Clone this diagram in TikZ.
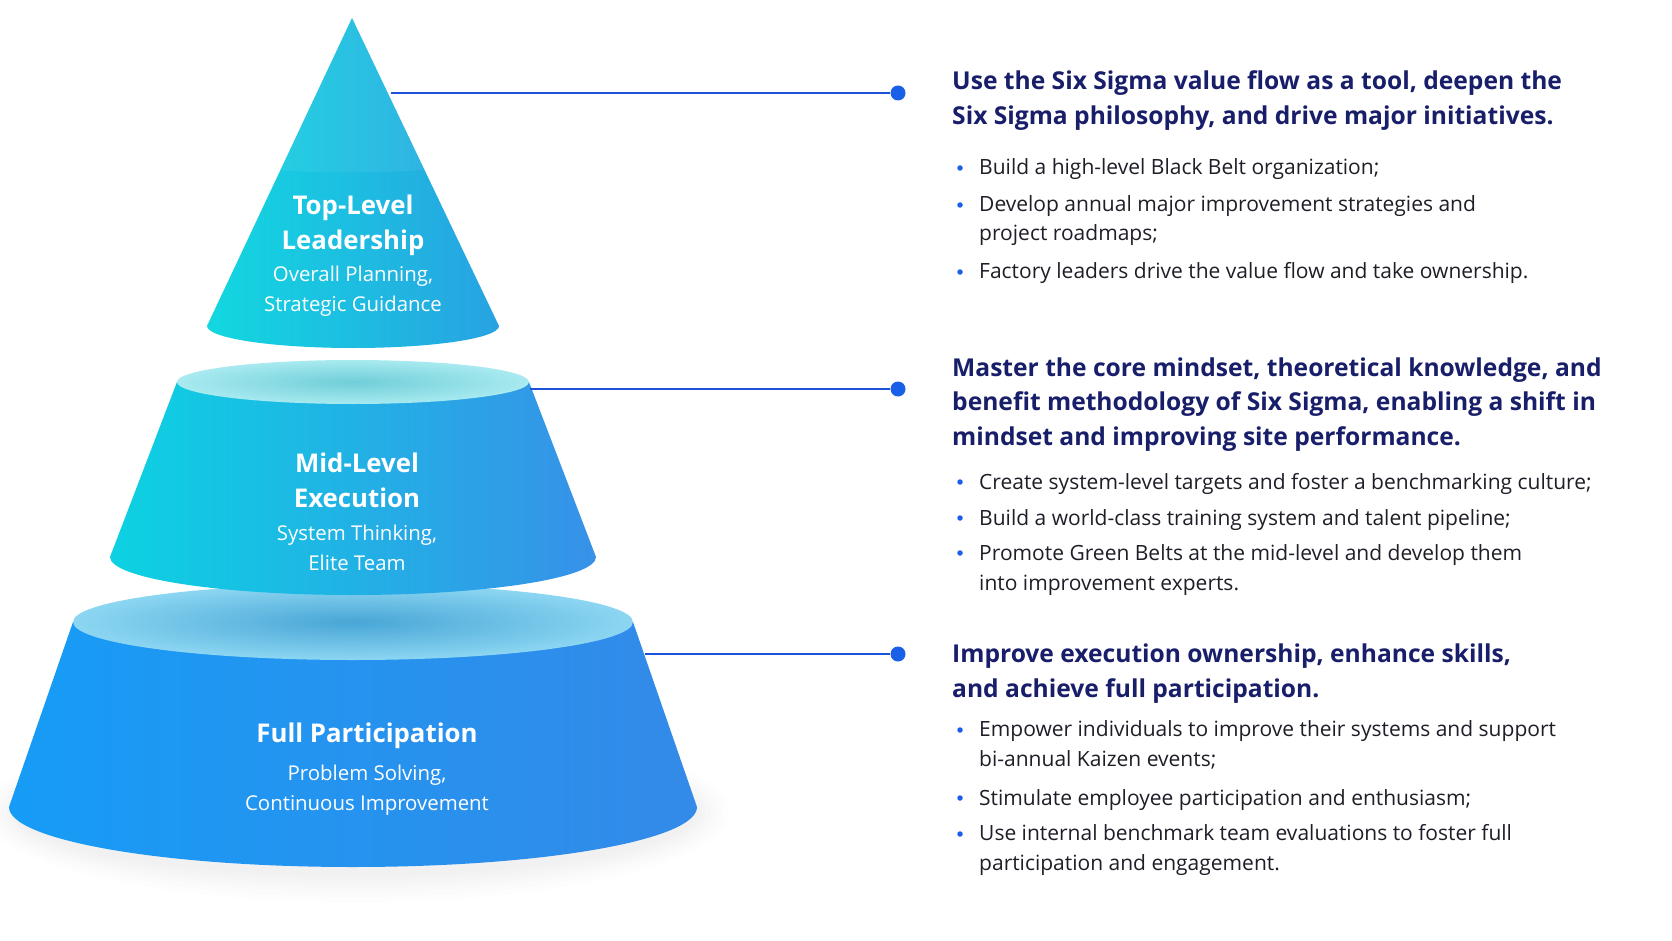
\documentclass[tikz,border=0pt]{standalone}
\usepackage{fontspec}
\setmainfont{Open Sans}
\definecolor{navy}{RGB}{24,30,105}
\definecolor{bodytxt}{RGB}{30,30,40}
\definecolor{linkblue}{RGB}{28,82,218}
\definecolor{dotblue}{RGB}{25,95,232}
\definecolor{cyanA}{RGB}{18,216,224}
\definecolor{blueA}{RGB}{40,162,226}
\definecolor{cyanB}{RGB}{12,210,226}
\definecolor{blueB}{RGB}{55,145,232}
\definecolor{topBout}{RGB}{168,234,240}
\definecolor{topBin}{RGB}{112,206,216}
\definecolor{blueC1}{RGB}{22,156,246}
\definecolor{blueC2}{RGB}{52,138,232}
\definecolor{topCout}{RGB}{140,214,242}
\definecolor{topCin}{RGB}{72,166,214}
\tikzset{
  conn/.style={draw=linkblue, line width=1.6pt},
  enddot/.style={circle, fill=dotblue, inner sep=0pt, minimum size=15pt},
  bul/.style={circle, fill=dotblue, inner sep=0pt, minimum size=5.5pt},
  headtxt/.style={text=navy, anchor=base west, align=left, inner sep=0pt,
    font=\fontsize{24.6}{34.5}\selectfont\bfseries},
  bodytext/.style={text=bodytxt, anchor=base west, align=left, inner sep=0pt,
    font=\fontsize{21}{29.5}\selectfont},
  conehead/.style={text=white, align=center, inner sep=0pt,
    font=\fontsize{25.8}{35}\selectfont\bfseries},
  conesub/.style={text=white, align=center, inner sep=0pt,
    font=\fontsize{20.4}{30}\selectfont},
}
\begin{document}
\begin{tikzpicture}[x=1pt,y=1pt]
\path[use as bounding box, fill=white] (0,0) rectangle (1672,-941);

% soft shadow under the base
\foreach \rx/\ry in {372/90,366/85,360/80,355/76,350/72,346/68,342/64}{
  \fill[black,opacity=0.009] (356,-812) ellipse[x radius=\rx pt, y radius=\ry pt];
}

% bottom frustum
\path[left color=blueC1, right color=blueC2]
  (73,-622) -- (9,-807) arc[start angle=180, end angle=360, x radius=344pt, y radius=60pt]
  -- (633,-622) -- cycle;
\path[inner color=topCin, outer color=topCout]
  (353,-622) ellipse[x radius=280pt, y radius=38pt];

% middle frustum
\path[left color=cyanB, right color=blueB]
  (177,-382) -- (110,-557) arc[start angle=180, end angle=360, x radius=243pt, y radius=38pt]
  -- (529,-382) -- cycle;
\path[inner color=topBin, outer color=topBout]
  (353,-382) ellipse[x radius=176pt, y radius=22pt];

% top cone
\path[left color=cyanA, right color=blueA]
  (207,-326) -- (352,-18) -- (499,-326)
  arc[start angle=0, end angle=-180, x radius=146pt, y radius=22pt] -- cycle;
\begin{scope}
  \clip (207,-326) -- (352,-18) -- (499,-326) -- cycle;
  \fill[white,opacity=0.06] (150,0) -- (150,-150) .. controls (250,-180) and (450,-180) .. (550,-150) -- (550,0) -- cycle;
\end{scope}

% cone labels
\node[conehead] (t1) at (353,-225) {Top-Level\\Leadership};
\node[conesub]  (s1) at (353,-291) {Overall Planning,\\Strategic Guidance};
\node[conehead] (t2) at (357,-480) {Mid-Level\\Execution};
\node[conesub]  (s2) at (357,-548) {System Thinking,\\Elite Team};
\node[conehead] (t3) at (367,-736) {Full Participation};
\node[conesub]  (s3) at (367,-790) {Problem Solving,\\Continuous Improvement};

% connectors
\coordinate (c1) at (391,-93);
\coordinate (c2) at (530,-389);
\coordinate (c3) at (645,-654);
\node[enddot] (d1) at (898,-93) {};
\node[enddot] (d2) at (898,-389) {};
\node[enddot] (d3) at (898,-654) {};
\draw[conn] (c1) -- (d1);
\draw[conn] (c2) -- (d2);
\draw[conn] (c3) -- (d3);

% block 1 (base anchor = baseline of last line)
\node[headtxt] (h1) at (952,-124.5) {Use the Six Sigma value flow as a tool, deepen the\\Six Sigma philosophy, and drive major initiatives.};
\node[bul] (b11) at (960,-168) {};
\node[bodytext] (x11) at (979,-175) {Build a high-level Black Belt organization;};
\node[bul] (b12) at (960,-205) {};
\node[bodytext] (x12) at (979,-241) {Develop annual major improvement strategies and\\project roadmaps;};
\node[bul] (b13) at (960,-272) {};
\node[bodytext] (x13) at (979,-279) {Factory leaders drive the value flow and take ownership.};

% block 2
\node[headtxt] (h2) at (952,-445) {Master the core mindset, theoretical knowledge, and\\benefit methodology of Six Sigma, enabling a shift in\\mindset and improving site performance.};
\node[bul] (b21) at (960,-482) {};
\node[bodytext] (x21) at (979,-489) {Create system-level targets and foster a benchmarking culture;};
\node[bul] (b22) at (960,-518) {};
\node[bodytext] (x22) at (979,-525) {Build a world-class training system and talent pipeline;};
\node[bul] (b23) at (960,-553) {};
\node[bodytext] (x23) at (979,-590) {Promote Green Belts at the mid-level and develop them\\into improvement experts.};

% block 3
\node[headtxt] (h3) at (952,-697) {Improve execution ownership, enhance skills,\\and achieve full participation.};
\node[bul] (b31) at (960,-730) {};
\node[bodytext] (x31) at (979,-766) {Empower individuals to improve their systems and support\\bi-annual Kaizen events;};
\node[bul] (b32) at (960,-798) {};
\node[bodytext] (x32) at (979,-805) {Stimulate employee participation and enthusiasm;};
\node[bul] (b33) at (960,-834) {};
\node[bodytext] (x33) at (979,-870) {Use internal benchmark team evaluations to foster full\\participation and engagement.};
\end{tikzpicture}
\end{document}
